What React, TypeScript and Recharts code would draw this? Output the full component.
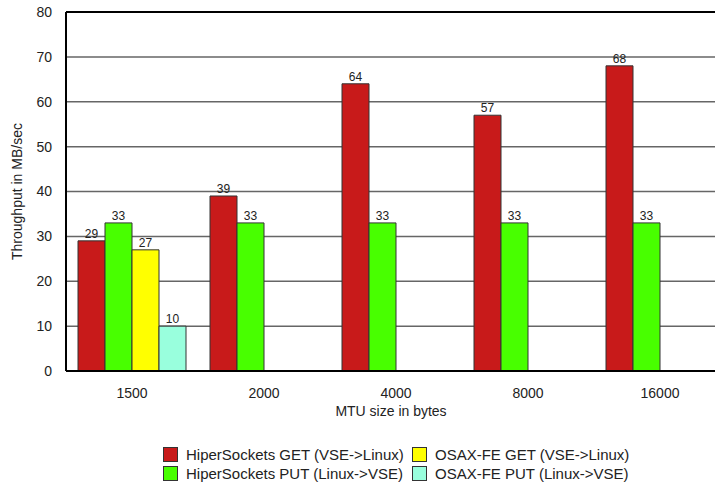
import React from 'react';
import { BarChart, Bar, XAxis, YAxis, CartesianGrid, LabelList, Legend, ReferenceLine } from 'recharts';

const categories = ['1500', '2000', '4000', '8000', '16000'];
const hsGet = [29, 39, 64, 57, 68];
const hsPut = [33, 33, 33, 33, 33];
const osaGet: (number | null)[] = [27, null, null, null, null];
const osaPut: (number | null)[] = [10, null, null, null, null];
const yTicks = [0, 10, 20, 30, 40, 50, 60, 70, 80];

const seriesNames = {
  hsGet: 'HiperSockets GET (VSE->Linux)',
  hsPut: 'HiperSockets PUT (Linux->VSE)',
  osaGet: 'OSAX-FE GET (VSE->Linux)',
  osaPut: 'OSAX-FE PUT (Linux->VSE)',
};
const colors = {
  hsGet: '#C81A1A',
  hsPut: '#48FF00',
  osaGet: '#FFFF00',
  osaPut: '#99FFDD',
};

const data = categories.map((c, i) => ({
  mtu: c,
  hsGet: hsGet[i],
  hsPut: hsPut[i],
  osaGet: osaGet[i],
  osaPut: osaPut[i],
}));

const FONT = '"Liberation Sans", Arial, Helvetica, sans-serif';

const ValueLabel = (props: any) => {
  const { x, y, width, value } = props;
  if (value === null || value === undefined) return null;
  return (
    <text x={x + width / 2} y={y - 3} textAnchor="middle" fontSize={12} fontFamily={FONT} fill="#222">
      {value}
    </text>
  );
};

const legendOrder: (keyof typeof colors)[] = ['hsGet', 'osaGet', 'hsPut', 'osaPut'];

const LegendContent = () => (
  <div
    style={{
      height: 66,
      boxSizing: 'border-box',
      paddingTop: 24,
      paddingLeft: 163,
      display: 'grid',
      gridTemplateColumns: '249px auto',
      gridAutoRows: '19px',
      fontFamily: FONT,
      fontSize: 15,
      color: '#222',
    }}
  >
    {legendOrder.map((k) => (
      <div key={k} style={{ display: 'flex', alignItems: 'center', whiteSpace: 'nowrap' }}>
        <span
          style={{
            display: 'inline-block',
            width: 13,
            height: 13,
            background: colors[k],
            border: '1px solid #333',
            marginRight: 8,
          }}
        />
        <span>{seriesNames[k]}</span>
      </div>
    ))}
  </div>
);

export default function App() {
  return (
    <div style={{ position: 'absolute', left: 0, top: 0, width: 715, height: 487, overflow: 'hidden', background: '#fff' }}>
      <BarChart
        width={730}
        height={487}
        data={data}
        margin={{ top: 12, right: 4, left: 0, bottom: 0 }}
        barGap={0}
        barSize={27}
      >
        <CartesianGrid horizontal vertical={false} stroke="#666" strokeWidth={1.5} />
        <XAxis
          dataKey="mtu"
          height={50}
          tickLine={false}
          tickSize={15}
          axisLine={{ stroke: '#000', strokeWidth: 2 }}
          tick={{ fontSize: 14, fontFamily: FONT, fill: '#222' }}
          label={{ value: 'MTU size in bytes', position: 'insideBottom', offset: 5, dx: -5, fontSize: 14, fontFamily: FONT, fill: '#222' }}
        />
        <YAxis
          width={66}
          domain={[0, 80]}
          ticks={yTicks}
          interval={0}
          tickLine={false}
          tickSize={12}
          axisLine={{ stroke: '#000', strokeWidth: 2 }}
          tick={{ fontSize: 14, fontFamily: FONT, fill: '#222' }}
          label={{ value: 'Throughput in MB/sec', angle: -90, position: 'insideLeft', offset: 17, fontSize: 14, fontFamily: FONT, fill: '#222', style: { textAnchor: 'middle' } }}
        />
        <ReferenceLine y={80} stroke="#000" strokeWidth={2} />
        <Legend verticalAlign="bottom" wrapperStyle={{ left: 0, width: 715 }} content={() => <LegendContent />} />
        <Bar dataKey="hsGet" name={seriesNames.hsGet} fill={colors.hsGet} stroke="#333" strokeWidth={1} isAnimationActive={false}>
          <LabelList dataKey="hsGet" content={ValueLabel} />
        </Bar>
        <Bar dataKey="hsPut" name={seriesNames.hsPut} fill={colors.hsPut} stroke="#333" strokeWidth={1} isAnimationActive={false}>
          <LabelList dataKey="hsPut" content={ValueLabel} />
        </Bar>
        <Bar dataKey="osaGet" name={seriesNames.osaGet} fill={colors.osaGet} stroke="#333" strokeWidth={1} isAnimationActive={false}>
          <LabelList dataKey="osaGet" content={ValueLabel} />
        </Bar>
        <Bar dataKey="osaPut" name={seriesNames.osaPut} fill={colors.osaPut} stroke="#333" strokeWidth={1} isAnimationActive={false}>
          <LabelList dataKey="osaPut" content={ValueLabel} />
        </Bar>
      </BarChart>
    </div>
  );
}
